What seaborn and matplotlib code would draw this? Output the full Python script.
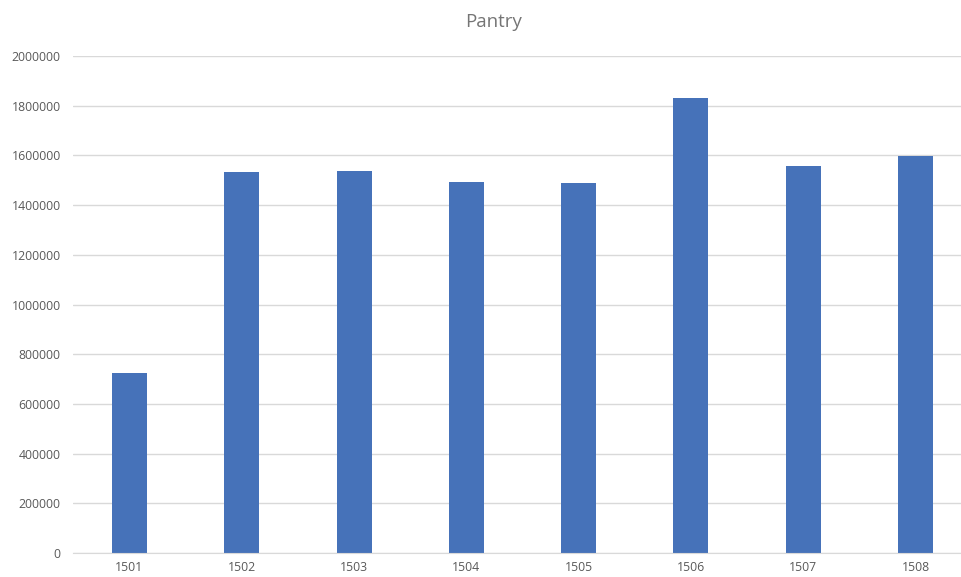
import matplotlib
matplotlib.use("Agg")
import matplotlib.pyplot as plt
import seaborn as sns
import pandas as pd

# data
rooms = ["1501", "1502", "1503", "1504", "1505", "1506", "1507", "1508"]
values = [724000, 1532000, 1538000, 1492000, 1488000, 1832000, 1557000, 1596000]

df = pd.DataFrame({"room": rooms, "value": values})

sns.set_style("white")
plt.rcParams["font.family"] = ["Open Sans", "DejaVu Sans"]

fig = plt.figure(figsize=(9.61, 5.77), dpi=100)
ax = fig.add_axes([73.3 / 961, 24 / 577, 898.4 / 961, 497 / 577])

sns.barplot(data=df, x="room", y="value", color="#4672B9", width=0.312,
            saturation=1, linewidth=0, ax=ax)

ax.set_ylim(0, 2000000)
ax.set_xlim(-0.5, 7.5)
ax.set_yticks(range(0, 2000001, 200000))
ax.set_yticklabels([str(v) for v in range(0, 2000001, 200000)])
ax.yaxis.grid(True, color="#D9D9D9", linewidth=1)
ax.set_axisbelow(True)
for s in ["top", "right", "left"]:
    ax.spines[s].set_visible(False)
ax.spines["bottom"].set_color("#D9D9D9")
ax.tick_params(axis="both", length=0, labelsize=8.8, labelcolor="#595959")
ax.tick_params(axis="y", pad=9)
ax.tick_params(axis="x", pad=6)
ax.set_xlabel("")
ax.set_ylabel("")

fig.text(494 / 961, 1 - 22 / 577, "Pantry", ha="center", va="center",
         fontsize=13.5, color="#757575")

fig.savefig("out.png", dpi=100)
